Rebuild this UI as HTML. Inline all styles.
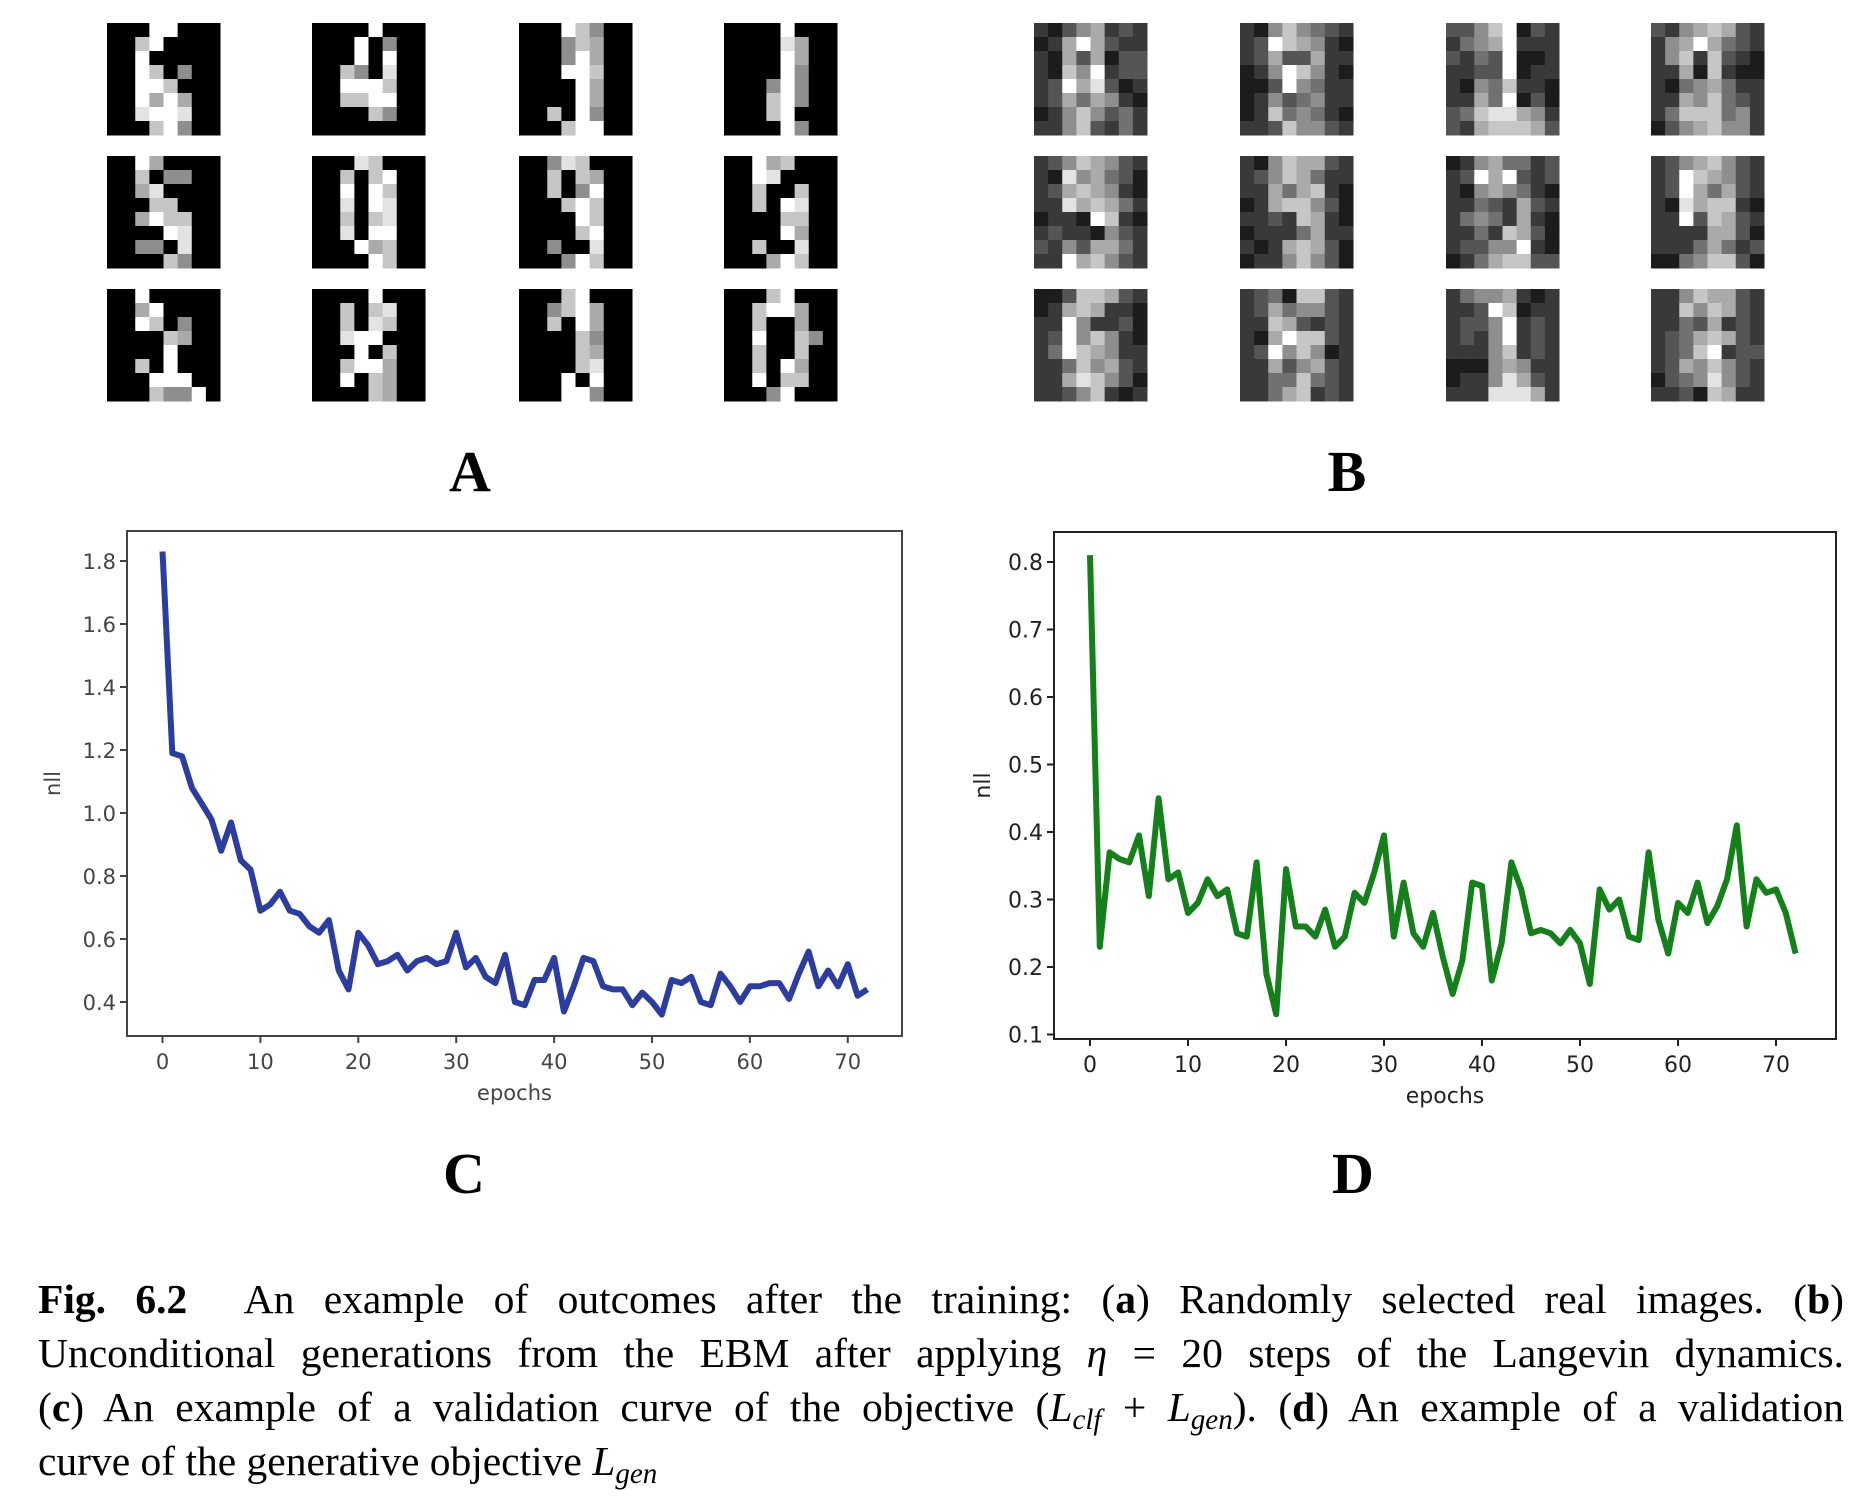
<!DOCTYPE html>
<html><head><meta charset="utf-8">
<style>
html,body{margin:0;padding:0;background:#fff;}
body{width:1856px;height:1504px;position:relative;overflow:hidden;font-family:"Liberation Sans","DejaVu Sans",sans-serif;}
.lbl{position:absolute;font-family:"Liberation Serif",serif;font-weight:bold;font-size:58px;color:#000;transform:translateX(-50%);}
#caption{position:absolute;left:38px;top:1272px;width:1806px;font-family:"Liberation Serif",serif;font-size:41.5px;color:#000;}
#caption div{height:54px;line-height:54px;text-align:justify;text-align-last:justify;white-space:nowrap;}
#caption div.last{text-align-last:left;}
sub{font-size:70%;vertical-align:-8px;line-height:0;}
</style></head>
<body>
<svg id="tiles" width="1856" height="420" style="position:absolute;left:0;top:0"></svg>
<div class="lbl" style="left:470px;top:438px">A</div>
<div class="lbl" style="left:1347px;top:438px">B</div>
<svg id="chartC" width="928" height="620" style="position:absolute;left:0;top:500px"></svg>
<svg id="chartD" width="928" height="620" style="position:absolute;left:928px;top:500px"></svg>
<div class="lbl" style="left:464px;top:1140px">C</div>
<div class="lbl" style="left:1353px;top:1140px">D</div>
<div id="caption">
<div><b>Fig. 6.2</b>&nbsp; An example of outcomes after the training: (<b>a</b>) Randomly selected real images. (<b>b</b>)</div>
<div>Unconditional generations from the EBM after applying <i>η</i> = 20 steps of the Langevin dynamics.</div>
<div>(<b>c</b>) An example of a validation curve of the objective (<i>L<sub>clf</sub></i> + <i>L<sub>gen</sub></i>). (<b>d</b>) An example of a validation</div>
<div class="last">curve of the generative objective <i>L<sub>gen</sub></i></div>
</div>
<script>
// Chart data
const epochs = [];
for (let i = 0; i <= 72; i++) epochs.push(i);
const nllC = [1.83,1.19,1.18,1.08,1.03,0.98,0.88,0.97,0.85,0.82,0.69,0.71,0.75,0.69,0.68,0.64,0.62,0.66,0.50,0.44,0.62,0.58,0.52,0.53,0.55,0.50,0.53,0.54,0.52,0.53,0.62,0.51,0.54,0.48,0.46,0.55,0.40,0.39,0.47,0.47,0.54,0.37,0.45,0.54,0.53,0.45,0.44,0.44,0.39,0.43,0.40,0.36,0.47,0.46,0.48,0.40,0.39,0.49,0.45,0.40,0.45,0.45,0.46,0.46,0.41,0.49,0.56,0.45,0.50,0.45,0.52,0.42,0.44];
const nllD = [0.81,0.23,0.37,0.36,0.355,0.395,0.305,0.45,0.33,0.34,0.28,0.295,0.33,0.305,0.315,0.25,0.245,0.355,0.19,0.13,0.345,0.26,0.26,0.245,0.285,0.23,0.245,0.31,0.295,0.34,0.395,0.245,0.325,0.25,0.23,0.28,0.215,0.16,0.21,0.325,0.32,0.18,0.235,0.355,0.315,0.25,0.255,0.25,0.235,0.255,0.235,0.175,0.315,0.285,0.30,0.245,0.24,0.37,0.27,0.22,0.295,0.28,0.325,0.265,0.29,0.33,0.41,0.26,0.33,0.31,0.315,0.28,0.22];
const xTicks = [0,10,20,30,40,50,60,70];
const yTicksC = [0.4,0.6,0.8,1.0,1.2,1.4,1.6,1.8];
const yTicksD = [0.1,0.2,0.3,0.4,0.5,0.6,0.7,0.8];

const NS = "http://www.w3.org/2000/svg";
function mk(parent, tag, attrs) {
  const e = document.createElementNS(NS, tag);
  for (const k in attrs) e.setAttribute(k, attrs[k]);
  parent.appendChild(e);
  return e;
}

function drawChart(svg, cfg) {
  const sx = v => cfg.x0 + (v - 0) * cfg.pxPerEpoch;
  const sy = v => cfg.yRef + (cfg.vRef - v) * cfg.pxPerUnit;
  const frame = mk(svg, 'rect', {x:cfg.left, y:cfg.top, width:cfg.right-cfg.left, height:cfg.bottom-cfg.top, fill:'none', stroke:cfg.axisColor, 'stroke-width':2});
  
  
  xTicks.forEach(t => {
    const x = sx(t);
    const tk = mk(svg, 'line', {x1:x, x2:x, y1:cfg.bottom, y2:cfg.bottom+7, stroke:cfg.axisColor, 'stroke-width':2});
    
    
    const tx = mk(svg, 'text', {x:x, y:cfg.bottom+33, 'text-anchor':'middle', 'font-size':cfg.fs, fill:cfg.textColor, 'font-family':'DejaVu Sans, sans-serif'});
    tx.textContent = String(t);
    
    
  });
  cfg.yTicks.forEach(t => {
    const y = sy(t);
    const tk = mk(svg, 'line', {x1:cfg.left-7, x2:cfg.left, y1:y, y2:y, stroke:cfg.axisColor, 'stroke-width':2});
    
    
    const tx = mk(svg, 'text', {x:cfg.left-11, y:y+8, 'text-anchor':'end', 'font-size':cfg.fs, fill:cfg.textColor, 'font-family':'DejaVu Sans, sans-serif'});
    tx.textContent = t.toFixed(1);
    
    
  });
  const xl = mk(svg, 'text', {x:(cfg.left+cfg.right)/2, y:cfg.bottom+64, 'text-anchor':'middle', 'font-size':cfg.fs, fill:cfg.textColor, 'font-family':'DejaVu Sans, sans-serif'});
  xl.textContent = 'epochs';
  
  
  const yl = mk(svg, 'text', {x:0, y:0, 'text-anchor':'middle', 'font-size':cfg.fs, fill:cfg.textColor, 'font-family':'DejaVu Sans, sans-serif', transform:'translate('+cfg.ylx+','+((cfg.top+cfg.bottom)/2)+') rotate(-90)'});
  yl.textContent = 'nll';
  
  
  const pts = cfg.values.map((v, i) => sx(epochs[i]).toFixed(1) + ',' + sy(v).toFixed(1)).join(' ');
  const line = mk(svg, 'polyline', {points:pts, fill:'none', stroke:cfg.color, 'stroke-width':6, 'stroke-linejoin':'round'});
  
  
}

drawChart(document.getElementById('chartC'), {
  left:127, right:902, top:31, bottom:536, x0:162.5, pxPerEpoch:9.79,
  yRef:61, vRef:1.8, pxPerUnit:315, yTicks:yTicksC, values:nllC,
  color:'#2b3da0', axisColor:'#444', textColor:'#444', fs:21, ylx:60
});
drawChart(document.getElementById('chartD'), {
  left:126, right:908, top:32, bottom:539, x0:162, pxPerEpoch:9.8,
  yRef:62, vRef:0.8, pxPerUnit:675, yTicks:yTicksD, values:nllD,
  color:'#14801a', axisColor:'#222', textColor:'#222', fs:22, ylx:62
});

// Digit image tiles (8x8 grayscale)
const digitsA = [
 "00099000|00790000|00900000|00970500|00997000|00969600|00899800|00079500",
 "00009000|00090500|00090900|00750800|00999700|00779900|00007500|00000000",
 "00097500|00057600|00059600|00099700|00009600|00009600|00709500|00079900",
 "00009000|00008600|00009600|00009500|00059500|00079500|00079000|00009500",
 "00960000|00705500|00680000|00077000|00697700|00009800|00550800|00007500",
 "00087000|00707900|00909700|00809800|00707800|00809900|00096700|00009700",
 "00587000|00707600|00705900|00079700|00009700|00007900|00500800|00059700",
 "00967000|00980000|00700700|00709800|00007700|00009600|00700800|00069700",
 "00900000|00690000|00970500|00007600|00009000|00709000|00099900|00075590",
 "00009000|00707800|00708700|00899000|00090700|00799600|00907600|00007600",
 "00079000|00579600|00709600|00007500|00007600|00007800|00090900|00099500",
 "00079000|00799600|00700600|00900750|00700700|00709600|00907700|00059000"
];
const digitsB = [
 "21356232|12696322|21636133|21759233|23968312|23646521|12575342|22573242",
 "21575432|23976521|23633622|12597521|11395422|12534522|12745421|22375532",
 "33579132|24569222|32439112|22339122|21547221|22649131|34788652|32677763",
 "32567632|25696432|25727321|22617211|21456422|22657432|24777452|13567552",
 "23576532|21856431|23676521|22867642|12219721|23221532|32536642|22967532",
 "21576632|23576422|22646721|12677531|22327621|12224622|21267631|12257531",
 "12564423|23969323|21565421|22432632|24542621|22427631|23355921|12467733",
 "23567532|23976532|23964632|21867721|22937632|22226631|22246423|11457731",
 "11377632|12676221|22952231|23957521|24976522|22475632|22687531|22357212",
 "23417732|23645532|22763232|21697732|23957512|22635632|22447432|22467232",
 "24556212|22397122|23359232|23259232|22257232|11156522|12258632|22288862",
 "22576632|22757632|22436232|23467632|23479233|23657532|13458532|22317622"
];
const colsA = [107,312,519,724], colsB = [1034,1240,1446,1651];
const rows = [23,156,289];
const tilesSvg = document.getElementById('tiles');
function drawTile(pattern, x0, y0, w, h) {
  const g = mk(tilesSvg, 'g', {});
  
  
  const r = pattern.split('|');
  const cw = w/8, ch = h/8;
  r.forEach((row, i) => {
    for (let j = 0; j < 8; j++) {
      const v = parseInt(row[j] || '0', 10);
      const gray = Math.round(v/9*255);
      mk(g, 'rect', {x:(x0 + j*cw).toFixed(2), y:(y0 + i*ch).toFixed(2), width:(cw+0.5).toFixed(2), height:(ch+0.5).toFixed(2), fill:'rgb('+gray+','+gray+','+gray+')'});
    }
  });
}
for (let r = 0; r < 3; r++) for (let c = 0; c < 4; c++) {
  drawTile(digitsA[r*4+c], colsA[c], rows[r], 113, 112);
  drawTile(digitsB[r*4+c], colsB[c], rows[r], 113, 112);
}
</script>
</body></html>
